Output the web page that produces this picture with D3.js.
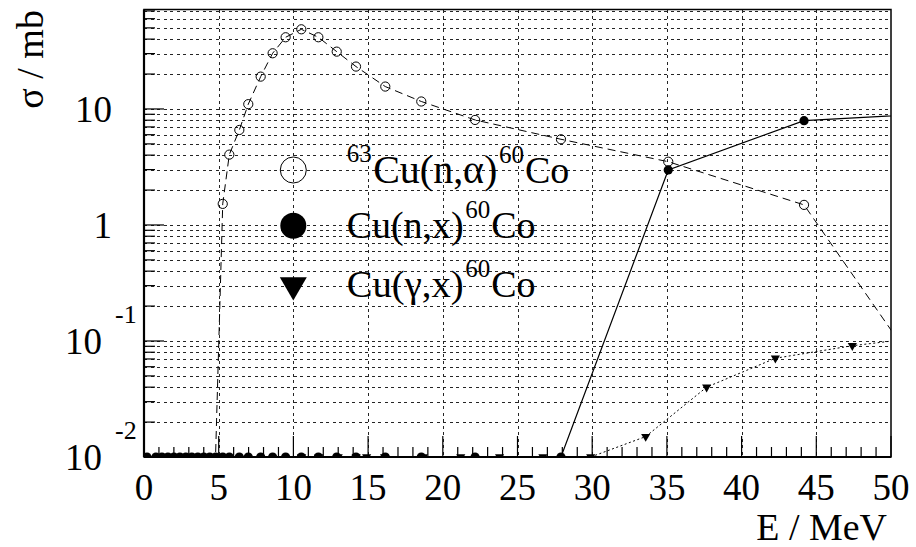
<!DOCTYPE html>
<html><head><meta charset="utf-8">
<script src="https://cdn.jsdelivr.net/npm/d3@7"></script>
<style>
body{margin:0;background:#fff}svg{display:block}
.serif{font-family:"Liberation Serif","DejaVu Serif","Times New Roman",Times,serif;}
</style>
</head><body>
<svg id="c" width="916" height="547"></svg>
<script>
// ---- data ----
const alphaE = [4.5, 5.27, 5.71, 6.38, 6.98, 7.81, 8.61, 9.48, 10.53, 11.67, 12.9, 14.19, 16.15, 18.56, 22.16, 27.91, 35.09, 44.18, 52];
const alphaS = [0.0005, 1.52, 4.04, 6.59, 11.0, 19.0, 30.2, 41.5, 48.6, 41.5, 31.2, 23.2, 15.6, 11.6, 8.04, 5.48, 3.51, 1.49, 0.053];
const nxE = [0.2, 0.8, 1.2, 1.6, 2.0, 2.4, 2.8, 3.2, 3.6, 4.0, 4.4, 4.8, 5.27, 5.71, 6.38, 6.98, 7.81, 8.61, 9.48, 10.53, 11.67, 12.9, 14.19, 16.15, 18.56, 22.16, 27.91, 35.09, 44.18, 52];
const nxS = [0.01, 0.01, 0.01, 0.01, 0.01, 0.01, 0.01, 0.01, 0.01, 0.01, 0.01, 0.01, 0.01, 0.01, 0.01, 0.01, 0.01, 0.01, 0.01, 0.01, 0.01, 0.01, 0.01, 0.01, 0.01, 0.01, 0.01, 2.98, 7.93, 9.0];
const gxE = [1, 2, 3, 4, 10.55, 11.7, 13.0, 14.2, 14.9, 16.1, 18.7, 21.2, 23.8, 26.7, 29.9, 33.58, 37.66, 42.26, 47.41, 52];
const gxS = [0.01, 0.01, 0.01, 0.01, 0.01, 0.01, 0.01, 0.01, 0.01, 0.01, 0.01, 0.01, 0.01, 0.01, 0.01, 0.015, 0.040, 0.071, 0.091, 0.107];
const xTickValues = [0, 5, 10, 15, 20, 25, 30, 35, 40, 45, 50];
const xTickLabels = ["0", "5", "10", "15", "20", "25", "30", "35", "40", "45", "50"];
const yTickValues = [0.01, 0.1, 1, 10];
const yTickBase = ["10", "10", "1", "10"];
const yTickExp = ["-2", "-1", "", ""];
const legendPre = ["63", "", ""];
const legendMain = ["Cu(n,\u03b1)", "Cu(n,x)", "Cu(\u03b3,x)"];
const legendSup = ["60", "60", "60"];
const legendPost = ["Co", "Co", "Co"];
const xTitle = "E / MeV";
const yTitle = "\u03c3 / mb";

// ---- layout ----
const L = 144, R = 891, T = 9.5, B = 457;
const svg = d3.select("#c");
const x = d3.scaleLinear([0, 50], [L, R]);
const y = d3.scaleLog([0.01, 72], [B, T]);

// match the reference's text footprint (width in em of a Times-like face)
function fit(sel, emWidth) {
  const fs = +sel.attr("font-size");
  const w = sel.node().getComputedTextLength();
  const target = emWidth * fs;
  if (w > 0) sel.attr("font-size", fs * Math.min(1.1, Math.max(0.7, target / w)));
  return sel.node().getComputedTextLength();
}

svg.append("defs").append("clipPath").attr("id", "clip")
  .append("rect").attr("x", L).attr("y", T).attr("width", R - L).attr("height", B - T);

// grid
const grid = svg.append("g").attr("stroke", "#000").attr("stroke-width", 1)
  .attr("stroke-dasharray", "3,3.5").attr("shape-rendering", "crispEdges").attr("opacity", 0.85);
grid.selectAll("line.h").data(y.ticks().filter(v => v > 0.0101)).join("line")
  .attr("x1", L).attr("x2", R)
  .attr("y1", d => Math.round(y(d)) + 0.5).attr("y2", d => Math.round(y(d)) + 0.5);
grid.selectAll("line.v").data(xTickValues.filter(v => v > 0 && v < 50)).join("line")
  .attr("y1", T).attr("y2", B)
  .attr("x1", d => Math.round(x(d)) + 0.5).attr("x2", d => Math.round(x(d)) + 0.5);

// ticks
const ticks = svg.append("g").attr("stroke", "#000").attr("stroke-width", 1.2);
ticks.selectAll("line.xt").data(d3.range(0, 51)).join("line")
  .attr("x1", d => x(d)).attr("x2", d => x(d))
  .attr("y1", B).attr("y2", d => B - (d % 5 === 0 ? 21 : 10));
ticks.selectAll("line.yt").data(y.ticks()).join("line")
  .attr("y1", d => y(d)).attr("y2", d => y(d))
  .attr("x1", L).attr("x2", d => L + (yTickValues.includes(d) ? 20 : 11));

// frame
svg.append("rect").attr("x", L).attr("y", T).attr("width", R - L).attr("height", B - T)
  .attr("fill", "none").attr("stroke", "#000").attr("stroke-width", 1.5);
svg.append("line").attr("x1", L).attr("x2", L).attr("y1", T).attr("y2", B).attr("stroke", "#000").attr("stroke-width", 2.2);
svg.append("line").attr("x1", L).attr("x2", R).attr("y1", B).attr("y2", B).attr("stroke", "#000").attr("stroke-width", 2.2);

// data
const plot = svg.append("g").attr("clip-path", "url(#clip)");
const line = d3.line().x(d => x(d[0])).y(d => y(d[1]));
const alpha = d3.zip(alphaE, alphaS), nx = d3.zip(nxE, nxS), gx = d3.zip(gxE, gxS);
plot.append("path").attr("d", line(alpha)).attr("fill", "none").attr("stroke", "#000")
  .attr("stroke-width", 1).attr("stroke-dasharray", "8,5");
plot.append("path").attr("d", line(nx)).attr("fill", "none").attr("stroke", "#000").attr("stroke-width", 1.2);
plot.append("path").attr("d", line(gx)).attr("fill", "none").attr("stroke", "#000")
  .attr("stroke-width", 1).attr("stroke-dasharray", "2,2.5");

plot.selectAll("circle.a").data(alpha).join("circle")
  .attr("cx", d => x(d[0])).attr("cy", d => y(d[1])).attr("r", 4.6)
  .attr("fill", "#fff").attr("fill-opacity", 0).attr("stroke", "#000").attr("stroke-width", 1);
plot.selectAll("circle.n").data(nx).join("circle")
  .attr("cx", d => x(d[0])).attr("cy", d => y(d[1])).attr("r", 4.6).attr("fill", "#000");
const triSmall = d3.symbol(d3.symbolTriangle, 36)();
plot.selectAll("path.g").data(gx).join("path")
  .attr("d", triSmall).attr("fill", "#000")
  .attr("transform", d => `translate(${x(d[0])},${y(d[1])}) rotate(180)`);

// tick labels
const tl = svg.append("g").attr("class", "serif").attr("fill", "#000");
tl.selectAll("text.xl").data(xTickValues).join("text")
  .attr("x", d => x(d)).attr("y", 500).attr("text-anchor", "middle").attr("font-size", 37)
  .text((d, i) => xTickLabels[i])
  .each(function (d, i) { fit(d3.select(this), 0.5 * xTickLabels[i].length); });
yTickValues.forEach((v, i) => {
  const hasExp = yTickExp[i] !== "";
  const t = tl.append("text").attr("x", hasExp ? 102 : 112).attr("y", y(v) + 13)
    .attr("text-anchor", "end").attr("font-size", 37).text(yTickBase[i]);
  fit(t, 0.5 * yTickBase[i].length);
  if (hasExp) {
    const e = tl.append("text").attr("x", 115).attr("y", y(v) - 18)
      .attr("font-size", 26).text(yTickExp[i]);
    fit(e, 0.833);
  }
});

// axis titles
const xt = svg.append("text").attr("class", "serif").attr("font-size", 38)
  .attr("x", 887).attr("y", 540).attr("text-anchor", "end").text(xTitle);
fit(xt, 3.44);
const yt = svg.append("text").attr("class", "serif").attr("font-size", 38)
  .attr("transform", "translate(43,10) rotate(-90)").attr("text-anchor", "end").text(yTitle);
fit(yt, 2.6);

// legend
const legY = [170, 225.7, 285];
const legBase = [183, 238, 297];
const mainEm = [3.27, 3.08, 3.08];
const lg = svg.append("g").attr("class", "serif");
lg.append("circle").attr("cx", 293.3).attr("cy", legY[0]).attr("r", 13)
  .attr("fill", "none").attr("stroke", "#000").attr("stroke-width", 1);
lg.append("circle").attr("cx", 293.3).attr("cy", legY[1]).attr("r", 13).attr("fill", "#000");
lg.append("path").attr("d", d3.symbol(d3.symbolTriangle, 316)()).attr("fill", "#000")
  .attr("transform", `translate(293.3,${legY[2]}) rotate(180)`);
legendMain.forEach((m, i) => {
  let cx = 346.7;
  if (legendPre[i]) {
    const p = lg.append("text").attr("x", cx).attr("y", legBase[i] - 21).attr("font-size", 25).text(legendPre[i]);
    cx += fit(p, 1.0) + 1.5;
  }
  const mt = lg.append("text").attr("x", cx).attr("y", legBase[i]).attr("font-size", 38).text(m);
  cx += fit(mt, mainEm[i]) + 1.5;
  const s = lg.append("text").attr("x", cx).attr("y", legBase[i] - 20).attr("font-size", 25).text(legendSup[i]);
  cx += fit(s, 1.0) + 1;
  const c = lg.append("text").attr("x", cx).attr("y", legBase[i]).attr("font-size", 38).text(legendPost[i]);
  fit(c, 1.167);
});
</script>
</body></html>
